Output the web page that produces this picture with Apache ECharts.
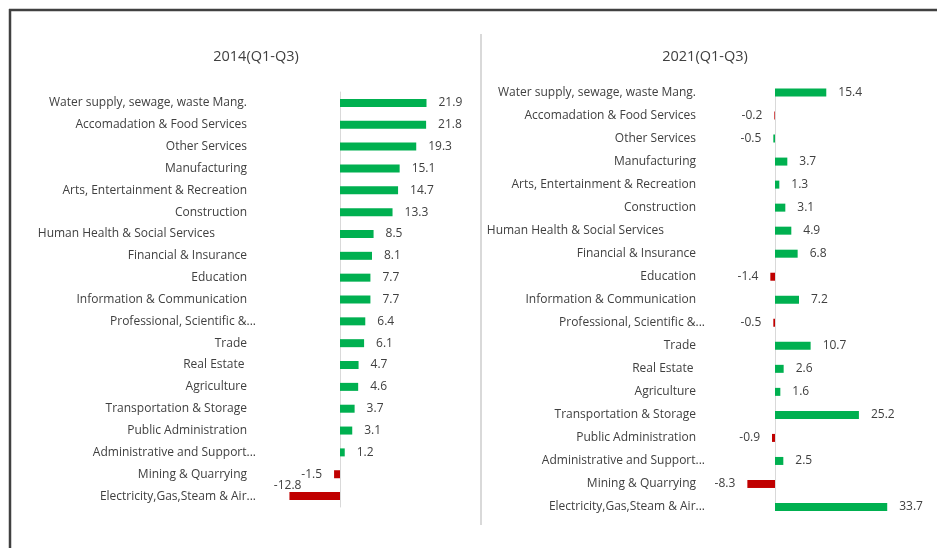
<!DOCTYPE html>
<html>
<head>
<meta charset="utf-8">
<script src="https://cdn.jsdelivr.net/npm/echarts@6/dist/echarts.min.js"></script>
<style>
html,body{margin:0;padding:0;background:#fff;}
#chart{width:937px;height:548px;}
</style>
</head>
<body>
<div id="chart"></div>
<script>
const categories = [
  "Water supply, sewage, waste Mang.",
  "Accomadation & Food Services",
  "Other Services",
  "Manufacturing",
  "Arts, Entertainment & Recreation",
  "Construction",
  "Human Health & Social Services",
  "Financial & Insurance",
  "Education",
  "Information & Communication",
  "Professional, Scientific &...",
  "Trade",
  "Real Estate",
  "Agriculture",
  "Transportation & Storage",
  "Public Administration",
  "Administrative and Support...",
  "Mining & Quarrying",
  "Electricity,Gas,Steam & Air..."
];
const values2014 = [21.9, 21.8, 19.3, 15.1, 14.7, 13.3, 8.5, 8.1, 7.7, 7.7, 6.4, 6.1, 4.7, 4.6, 3.7, 3.1, 1.2, -1.5, -12.8];
const values2021 = [15.4, -0.2, -0.5, 3.7, 1.3, 3.1, 4.9, 6.8, -1.4, 7.2, -0.5, 10.7, 2.6, 1.6, 25.2, -0.9, 2.5, -8.3, 33.7];
const titles = ["2014(Q1-Q3)", "2021(Q1-Q3)"];

const GREEN = '#00b050', RED = '#c00000', TXT = '#404040';
const FONT = '"Open Sans", "Noto Sans", sans-serif';

// label padding style per category (mimics the reference's uneven label alignment)
function labelKey(c) {
  if (c.endsWith('...')) return 'e';
  if (c === 'Human Health & Social Services') return 'h';
  if (c === 'Real Estate') return 'r';
  return 'n';
}
const rich = {
  e: {padding: [0, 0, 0, 0], fontSize: 12, color: TXT, fontFamily: FONT},
  n: {padding: [0, 9, 0, 0], fontSize: 12, color: TXT, fontFamily: FONT},
  h: {padding: [0, 41, 0, 0], fontSize: 12, color: TXT, fontFamily: FONT},
  r: {padding: [0, 11.5, 0, 0], fontSize: 12, color: TXT, fontFamily: FONT}
};

function buildData(vals, panel) {
  return vals.map((v, i) => {
    let color = v < 0 ? RED : GREEN;
    if (panel === 1 && categories[i] === 'Other Services') color = GREEN;
    const label = {position: v < 0 ? 'left' : 'right'};
    if (panel === 0 && v === -12.8) { label.offset = [24, -11]; }
    return {value: v, itemStyle: {color}, label};
  });
}

function yAxisFor(gi, margin, boundaryGap) {
  return {
    type: 'category', gridIndex: gi, data: categories, inverse: true,
    boundaryGap: boundaryGap,
    axisLine: {show: true, onZero: true, lineStyle: {color: '#d9d9d9', width: 1}},
    axisTick: {show: false},
    axisLabel: {
      margin: margin, interval: 0,
      formatter: (v) => '{' + labelKey(v) + '|' + v + '}',
      rich: rich
    },
    splitLine: {show: false}
  };
}

const titleStyle = {fontSize: 14.5, fontWeight: 'normal', color: TXT, fontFamily: FONT};

const option = {
  animation: false,
  backgroundColor: '#fff',
  textStyle: {fontFamily: FONT},
  title: [
    {text: titles[0], left: 256, top: 49, textAlign: 'center', padding: 0, textStyle: titleStyle},
    {text: titles[1], left: 705, top: 49, textAlign: 'center', padding: 0, textStyle: titleStyle}
  ],
  grid: [
    {left: 261, width: 197.5, top: 92, height: 415, containLabel: false, outerBoundsMode: 'none'},
    {left: 741.7, width: 166.5, top: 92.5, height: 414.5, containLabel: false, outerBoundsMode: 'none'}
  ],
  xAxis: [
    {type: 'value', gridIndex: 0, min: -20, max: 30, show: false, splitLine: {show: false}},
    {type: 'value', gridIndex: 1, min: -10, max: 40, show: false, splitLine: {show: false}}
  ],
  yAxis: [
    yAxisFor(0, 5, true),
    yAxisFor(1, 36.7, false)
  ],
  series: [
    {
      type: 'bar', xAxisIndex: 0, yAxisIndex: 0, barWidth: 8,
      data: buildData(values2014, 0),
      label: {show: true, distance: 12, fontSize: 12, color: TXT, fontFamily: FONT,
              formatter: (p) => p.value.toFixed(1)}
    },
    {
      type: 'bar', xAxisIndex: 1, yAxisIndex: 1, barWidth: 8, clip: true,
      data: buildData(values2021, 1),
      label: {show: true, distance: 12, fontSize: 12, color: TXT, fontFamily: FONT,
              formatter: (p) => p.value.toFixed(1)}
    }
  ],
  graphic: [
    {type: 'line', shape: {x1: 9, y1: 10, x2: 937, y2: 10}, style: {stroke: '#404040', lineWidth: 2.5}},
    {type: 'line', shape: {x1: 10, y1: 9, x2: 10, y2: 548}, style: {stroke: '#404040', lineWidth: 2.5}},
    {type: 'line', shape: {x1: 481, y1: 34, x2: 481, y2: 525}, style: {stroke: '#d9d9d9', lineWidth: 2}}
  ]
};

const chart = echarts.init(document.getElementById('chart'), null, {renderer: 'canvas'});
chart.setOption(option);
</script>
</body>
</html>
